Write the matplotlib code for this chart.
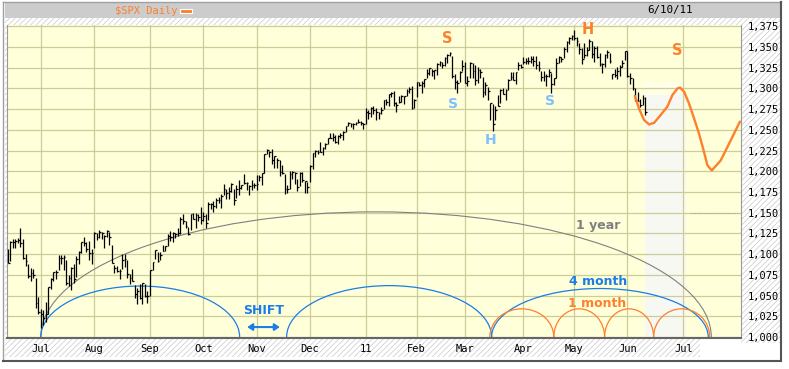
import numpy as np
import pandas as pd
import matplotlib
matplotlib.use("Agg")
import matplotlib.pyplot as plt
from matplotlib.patches import Arc, Rectangle, FancyArrowPatch

plt.rcParams["hatch.linewidth"] = 0.45

# ---------------- data ----------------
high = [1105.9,1115.6,1118.7,1118.7,1120.0,1131.2,1118.5,1099.6,1088.2,1083.6,1082.6,1071.0,1048.1,
 1033.6,1032.9,1042.5,1060.9,1071.3,1078.2,1080.8,1099.1,1099.5,1098.8,1093.4,1074.7,1083.9,1088.5,1097.5,1103.7,1115.0,1121.0,1114.7,1115.9,1106.4,
 1127.3,1125.4,1128.8,1126.6,1123.0,1129.2,1127.3,1111.6,1086.3,1086.2,1082.6,1100.1,1099.8,1092.8,1075.6,1081.6,1063.0,1059.4,1064.4,1065.0,1064.3,1055.1,
 1081.3,1090.1,1105.1,1103.0,1103.1,1110.9,1110.3,1123.9,1127.4,1126.5,1126.0,1131.5,1144.4,1148.6,1140.0,1133.2,1148.9,1149.9,1150.0,1148.6,1157.2,
 1150.3,1148.2,1162.8,1162.3,1163.9,1167.7,1168.7,1172.6,1184.4,1178.1,1181.2,1185.5,1178.6,1182.9,1189.4,1183.9,1196.1,1187.1,1183.8,1189.5,1185.5,
 1195.8,1195.9,1198.3,1221.3,1227.1,1224.6,1226.8,1218.8,1215.5,1213.4,1207.4,1197.2,1183.6,1200.3,1200.0,1198.9,1190.5,1198.9,1198.6,1187.9,1187.4,
 1207.6,1221.9,1225.6,1225.6,1235.1,1228.9,1234.3,1240.4,1246.7,1246.1,1244.3,1243.7,1245.8,1248.0,1255.0,1259.4,1258.6,1258.6,1259.9,1262.6,1261.1,1258.0,
 1276.2,1274.1,1277.6,1278.2,1276.8,1271.5,1277.2,1286.2,1286.7,1293.2,1296.1,1296.7,1283.9,1291.2,1291.9,1291.3,1299.7,1301.3,1302.7,1287.2,
 1308.1,1307.6,1308.6,1311.0,1322.9,1324.9,1323.2,1322.3,1330.8,1332.8,1332.0,1337.8,1341.5,1344.1,1338.9,1317.9,1310.1,1320.6,1334.3,
 1332.3,1314.4,1332.3,1331.1,1327.7,1325.7,1323.2,1313.6,1308.3,1301.3,1282.2,1280.9,1278.7,1292.6,1299.0,1300.0,1299.6,1311.3,1319.2,1319.7,1319.4,1331.7,1329.8,
 1337.9,1336.7,1338.2,1339.5,1338.8,1339.5,1333.2,1321.4,1321.0,1316.8,1322.9,1319.1,1312.9,1336.2,1339.5,1337.8,1349.6,1357.1,1361.7,1364.6,
 1370.6,1362.6,1355.2,1348.7,1354.4,1349.4,1359.4,1357.5,1351.0,1351.5,1343.3,1330.4,1341.3,1346.8,1342.8,1317.4,1323.5,1325.9,1328.5,1334.6,1345.2,
 1345.2,1318.0,1312.9,1300.6,1296.2,1287.2,1292.1,1289.3]

low = [1089.0,1091.7,1107.1,1107.4,1113.0,1108.2,1094.2,1085.3,1071.7,1067.9,1071.5,1035.2,1028.3,
 1010.9,1015.0,1018.4,1028.3,1058.2,1068.0,1070.3,1080.5,1087.7,1080.5,1063.3,1061.0,1056.9,1065.2,1072.8,1087.9,1101.3,1109.8,1103.1,1092.8,1088.0,
 1107.7,1116.8,1119.5,1118.8,1107.0,1120.9,1111.0,1088.7,1076.7,1079.0,1069.5,1081.8,1084.3,1070.7,1063.9,1067.1,1046.7,1039.8,1045.9,1039.7,1048.8,1040.9,
 1050.0,1080.4,1094.0,1091.1,1092.4,1103.9,1103.3,1109.3,1115.6,1114.6,1118.9,1122.4,1124.1,1136.2,1131.9,1122.7,1129.6,1142.0,1132.1,1140.3,1136.1,
 1139.4,1131.9,1140.7,1154.9,1151.4,1155.5,1162.0,1155.7,1171.3,1166.7,1167.1,1174.6,1159.7,1167.5,1171.2,1179.0,1184.7,1177.7,1171.7,1177.1,1179.7,
 1177.7,1187.9,1183.6,1198.3,1220.3,1217.1,1208.9,1204.3,1204.5,1194.1,1197.2,1173.0,1173.3,1179.1,1191.2,1184.5,1176.1,1182.7,1186.5,1173.6,1174.1,
 1186.6,1202.6,1216.8,1220.7,1223.3,1219.5,1227.2,1232.6,1240.2,1236.8,1234.0,1232.9,1239.9,1238.0,1247.8,1254.2,1254.0,1251.5,1256.2,1258.5,1256.3,1251.0,
 1257.6,1262.7,1265.4,1268.7,1262.2,1262.7,1269.6,1275.0,1280.5,1279.1,1290.2,1279.3,1271.3,1282.1,1283.2,1281.1,1290.8,1294.4,1275.1,1276.6,
 1289.9,1302.6,1294.8,1301.7,1312.3,1316.0,1314.6,1311.7,1316.1,1326.9,1325.2,1326.9,1331.0,1338.6,1312.3,1299.3,1294.3,1307.3,1320.4,
 1306.1,1302.6,1312.8,1312.6,1304.0,1306.9,1312.3,1289.2,1292.0,1286.4,1261.7,1249.1,1261.6,1279.2,1282.6,1292.7,1285.7,1297.7,1310.2,1310.2,1305.3,1321.9,1325.0,
 1328.9,1329.1,1330.0,1330.7,1326.6,1322.9,1321.1,1309.2,1309.5,1302.4,1313.7,1294.7,1304.0,1312.6,1330.8,1331.6,1336.4,1344.5,1353.6,1358.7,
 1358.6,1351.0,1341.5,1329.2,1336.4,1338.6,1346.3,1336.4,1332.0,1336.4,1327.3,1318.5,1326.3,1336.9,1330.2,1311.8,1313.8,1311.8,1314.4,1325.8,1334.0,
 1313.7,1305.6,1297.9,1284.9,1284.7,1277.5,1279.9,1268.3]

close = [1089.6,1115.2,1114.6,1116.0,1117.5,1113.2,1095.3,1092.0,1073.7,1076.8,1074.6,1041.2,1030.7,
 1027.4,1022.6,1028.1,1060.3,1070.3,1078.0,1078.8,1095.3,1095.2,1096.5,1064.9,1071.3,1083.5,1069.6,1093.7,1102.7,1115.0,1113.8,1106.1,1101.5,1101.6,
 1125.9,1120.5,1127.2,1125.8,1121.6,1127.8,1121.1,1089.5,1083.6,1079.3,1079.4,1092.5,1094.2,1075.6,1071.7,1067.4,1051.9,1055.3,1047.2,1064.6,1048.9,1049.3,
 1080.3,1090.1,1104.5,1091.8,1098.9,1104.2,1109.6,1121.9,1121.1,1125.1,1124.7,1125.6,1142.7,1139.8,1134.3,1124.8,1148.7,1142.2,1147.7,1144.7,1141.2,
 1146.2,1137.0,1160.8,1160.0,1158.1,1165.2,1165.3,1169.8,1178.1,1173.8,1176.2,1184.7,1165.9,1178.2,1180.3,1183.1,1185.6,1185.6,1182.4,1183.8,1183.3,
 1184.4,1193.6,1198.0,1221.1,1225.9,1223.3,1213.4,1218.7,1213.5,1199.2,1197.8,1178.3,1178.6,1196.7,1199.7,1197.8,1180.7,1198.4,1189.4,1187.8,1180.6,
 1206.1,1221.5,1224.7,1223.1,1223.8,1228.3,1233.0,1240.4,1240.5,1241.6,1235.2,1242.9,1243.9,1247.1,1254.6,1258.8,1256.8,1257.5,1258.5,1259.8,1257.9,1257.6,
 1271.9,1270.2,1276.6,1273.9,1271.5,1269.8,1274.5,1286.0,1283.8,1293.2,1295.0,1281.9,1280.3,1283.4,1290.8,1291.2,1296.6,1299.5,1276.3,1286.1,
 1307.6,1304.0,1307.1,1310.9,1319.1,1324.6,1320.9,1321.9,1329.2,1332.3,1328.0,1336.3,1340.4,1343.0,1315.4,1307.4,1306.1,1319.9,1327.2,
 1306.3,1308.4,1331.0,1321.2,1310.1,1321.8,1320.0,1295.1,1304.3,1296.4,1281.9,1256.9,1273.7,1279.2,1298.4,1293.8,1297.5,1309.7,1313.8,1310.2,1319.4,1328.3,1325.8,
 1332.4,1332.9,1332.6,1335.5,1333.5,1328.2,1324.5,1314.2,1314.4,1314.5,1319.7,1305.1,1312.6,1330.4,1337.4,1335.3,1347.2,1355.7,1360.5,1363.6,
 1361.2,1356.6,1347.3,1335.1,1340.2,1346.3,1357.2,1342.1,1348.7,1337.8,1329.5,1328.9,1340.7,1343.6,1333.3,1317.4,1316.3,1320.5,1325.7,1331.1,1345.2,
 1314.6,1312.9,1300.2,1286.2,1284.9,1279.6,1289.0,1271.0]

holidays = ["2010-07-05", "2010-09-06", "2010-11-25", "2010-12-24", "2011-01-17",
            "2011-02-21", "2011-04-22", "2011-05-30", "2011-07-04"]
month_starts = ["2010-07-01", "2010-08-01", "2010-09-01", "2010-10-01", "2010-11-01",
                "2010-12-01", "2011-01-01", "2011-02-01", "2011-03-01", "2011-04-01",
                "2011-05-01", "2011-06-01", "2011-07-01"]
month_labels = ["Jul", "Aug", "Sep", "Oct", "Nov", "Dec", "11", "Feb", "Mar", "Apr", "May", "Jun", "Jul"]
y_ticks = [1000, 1025, 1050, 1075, 1100, 1125, 1150, 1175, 1200, 1225, 1250, 1275, 1300, 1325, 1350, 1375]

# projection path (bar index, price)
proj_x = [246.9, 248.5, 250.5, 252.5, 254.5, 257.1, 259.7, 261.7, 263.7, 264.7, 266.3, 268.2,
          270.2, 272.2, 273.9, 275.5, 277.2, 280.7, 284.6, 288.3]
proj_y = [1291, 1276, 1262, 1256.5, 1258.5, 1268, 1278, 1292, 1300, 1301, 1296, 1282,
          1264, 1245, 1226, 1207, 1201, 1213, 1237, 1260]

# cycle arcs: (start bar, end bar, height above 1000)
year_arcs = [(13, 277, 151)]
month4_arcs = [(13, 91.3, 61.5), (109.8, 190.5, 62), (190.5, 275.8, 58.5)]
month1_arcs = [(189.8, 215.0, 34), (215.0, 235.0, 34), (235.0, 254.3, 34), (254.3, 276.4, 34)]

# ---------------- figure ----------------
W, H = 789, 369
fig = plt.figure(figsize=(W / 100, H / 100), dpi=100)
fig.patch.set_facecolor("white")

bg = fig.add_axes([0, 0, 1, 1], zorder=0)
bg.set_xlim(0, W)
bg.set_ylim(H, 0)
bg.axis("off")

hatch_col = "#c4c4c4"
def hatched(x, y, w, h):
    bg.add_patch(Rectangle((x, y), w, h, facecolor="white", edgecolor=hatch_col,
                           hatch="//////", lw=0))

# outer frame
bg.plot([3, 3], [2, 361], color="#a0a0a0", lw=1)
bg.plot([3, 781], [2, 2], color="#a0a0a0", lw=1)
bg.plot([781, 781], [2, 361], color="#555555", lw=1.5)
bg.plot([3, 781], [361, 361], color="#555555", lw=1.5)
# title bar
bg.add_patch(Rectangle((5, 3), 775, 15, facecolor="#cccccc", lw=0))
hatched(5, 18, 775, 7)
hatched(5, 18, 2, 322)
hatched(741, 18, 39, 325)
hatched(5, 339, 695, 18)

mono = "DejaVu Sans Mono"
bg.text(115, 10.5, "$SPX Daily", color="#ff7f2a", fontsize=7.5, family=mono, va="center", ha="left")
bg.add_patch(Rectangle((180, 8.5), 12, 4, facecolor="#ff7f2a", edgecolor="white", lw=0.8))
bg.text(647, 10.5, "6/10/11", color="black", fontsize=7.8, family=mono, va="center", ha="left")

# main axes
ax = fig.add_axes([7 / W, 1 - 338 / H, (741 - 7) / W, (338 - 25) / H], zorder=2)
ax.set_facecolor("#ffffda")
ax.set_xlim(-0.3, 288.7)
ax.set_ylim(998.8, 1376.5)

dates = pd.bdate_range("2010-06-14", "2011-09-30", freq="C", holidays=holidays)
month_idx = [int(np.searchsorted(dates.values, np.datetime64(m))) for m in month_starts]

ax.set_xticks(month_idx)
ax.set_xticklabels(month_labels, family=mono, fontsize=7.5)
ax.set_yticks(y_ticks)
ax.set_yticklabels([f"{v:,}" for v in y_ticks], family=mono, fontsize=7.5, ha="left")
ax.yaxis.tick_right()
ax.tick_params(axis="x", length=0, pad=4.5)
ax.tick_params(axis="y", length=0, pad=5)
ax.grid(True, color="#cccc99", lw=0.9)
ax.set_axisbelow(True)
ax.spines["top"].set_visible(False)
ax.spines["left"].set_color("#999999")
ax.spines["right"].set_color("#999999")
ax.spines["bottom"].set_color("#666666")
ax.spines["bottom"].set_linewidth(1.5)

# projection shading
ax.add_patch(Rectangle((251.0, 998.8), 16.2, 293, facecolor="#f8f8f2", lw=0, zorder=0.3))
ax.add_patch(Rectangle((250.3, 1292), 15.7, 16, facecolor="#ffffe8", lw=0, zorder=0.3))
ax.plot([268.5, 287.8], [1150, 1150], color="#aaaaaa", lw=0.8, ls=(0, (1, 1)), zorder=1)

# price bars (high-low-close)
xi = np.arange(len(close))
ax.vlines(xi, low, high, color="black", lw=0.9, zorder=3)
ax.hlines(close, xi, xi + 0.7, color="black", lw=0.9, zorder=3)

# cycle arcs
for (a, b, h) in year_arcs:
    ax.add_patch(Arc(((a + b) / 2, 1000), b - a, 2 * h, theta1=0, theta2=180,
                     color="#808080", lw=0.8, zorder=2))
for (a, b, h) in month4_arcs:
    ax.add_patch(Arc(((a + b) / 2, 1000), b - a, 2 * h, theta1=0, theta2=180,
                     color="#1a7ee6", lw=0.9, zorder=2))
for (a, b, h) in month1_arcs:
    ax.add_patch(Arc(((a + b) / 2, 1000), b - a, 2 * h, theta1=0, theta2=180,
                     color="#ff7f2a", lw=0.9, zorder=2))

# projection curve
ax.plot(proj_x, proj_y, color="#ff7f2a", lw=1.7, zorder=4, solid_capstyle="round",
        solid_joinstyle="round")

# labels
orange = "#ff7f2a"
lblue = "#80c0ff"
ax.text(172.9, 1360.7, "S", color=orange, fontsize=10.5, fontweight="bold", ha="center", va="center")
ax.text(228.4, 1371.0, "H", color=orange, fontsize=10.5, fontweight="bold", ha="center", va="center")
ax.text(263.5, 1346.0, "S", color=orange, fontsize=10.5, fontweight="bold", ha="center", va="center")
ax.text(175.3, 1281.0, "S", color=lblue, fontsize=10, fontweight="bold", ha="center", va="center")
ax.text(190.2, 1237.6, "H", color=lblue, fontsize=10, fontweight="bold", ha="center", va="center")
ax.text(213.5, 1284.7, "S", color=lblue, fontsize=10, fontweight="bold", ha="center", va="center")

ax.text(232.4, 1134, "1 year", color="#808080", fontsize=9, fontweight="bold", ha="center", va="center")
ax.text(232.4, 1066.5, "4 month", color="#1a7ee6", fontsize=9, fontweight="bold", ha="center", va="center")
ax.text(232.0, 1041, "1 month", color=orange, fontsize=9, fontweight="bold", ha="center", va="center")
ax.text(100.9, 1031.4, "SHIFT", color="#1a7ee6", fontsize=9, fontweight="bold", ha="center", va="center")
ax.add_patch(FancyArrowPatch((93.2, 1012), (108.2, 1012), arrowstyle="<|-|>,head_length=3,head_width=2",
                             color="#1a7ee6", lw=1.5, mutation_scale=1, zorder=4))

fig.savefig("out.png", dpi=100)
